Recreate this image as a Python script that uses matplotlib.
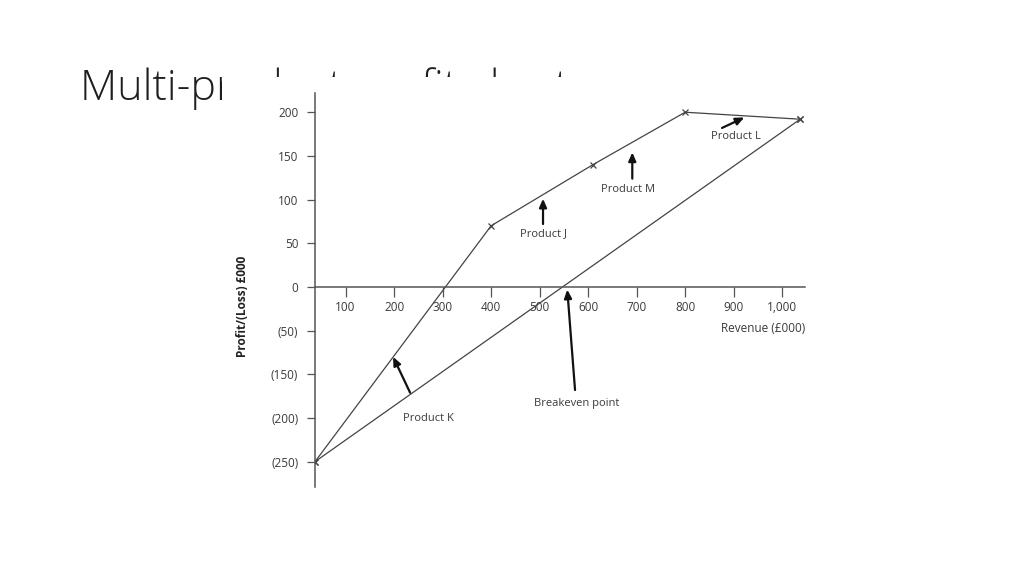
import matplotlib
matplotlib.use("Agg")
import matplotlib.pyplot as plt

# profit path (visual scale of the original drawing)
rev_path = [37, 400, 610, 800, 1037]
profit_path = [-200, 70, 140, 200, 192]
# single-product (average) line
rev_line = [37, 1037]
profit_line = [-200, 192]

xticks = [100, 200, 300, 400, 500, 600, 700, 800, 900, 1000]
xlabels = ["100", "200", "300", "400", "500", "600", "700", "800", "900", "1,000"]
yticks = [-200, -150, -100, -50, 0, 50, 100, 150, 200]
ylabels = ["(250)", "(200)", "(150)", "(50)", "0", "50", "100", "150", "200"]

# annotations: label, text pos, arrow tail, arrow tip
notes = [
    ("Product K", (270, -151), (233, -121), (198, -80)),
    ("Product J", (507, 61), (507, 72), (507, 101)),
    ("Product M", (682, 112), (691, 124), (691, 154)),
    ("Product L", (905, 172), (876, 182), (922, 194)),
    ("Breakeven point", (577, -133), (573, -118), (557, -3)),
]

W, H = 1024, 576
fig = plt.figure(figsize=(W / 100, H / 100), dpi=100)
fig.patch.set_facecolor("white")

# slide title, partly hidden behind the pasted chart
fig.text(80 / W, 1 - 100 / H, "Multi-product profit chart", fontsize=31,
         family="Open Sans", weight="light", color="#1e1e1e", va="baseline", zorder=0)

bg = fig.add_axes([222 / W, 1 - 520 / H, 620 / W, 443 / H], zorder=1)
bg.set_facecolor("white")
bg.set_xticks([])
bg.set_yticks([])
for s in bg.spines.values():
    s.set_visible(False)

ax = fig.add_axes([315 / W, 1 - 487 / H, 490 / W, 394 / H], zorder=2)
ax.patch.set_alpha(0)
ax.set_xlim(37, 1047)
ax.set_ylim(-229, 222)

line_c = "#444444"
ax.plot(rev_path, profit_path, color=line_c, lw=0.9, marker="x", ms=4.5, mew=0.9)
ax.plot(rev_line, profit_line, color=line_c, lw=0.9, marker="x", ms=4.5, mew=0.9)

for sp in ["top", "right"]:
    ax.spines[sp].set_visible(False)
ax.spines["bottom"].set_position(("data", 0))
for sp in ["left", "bottom"]:
    ax.spines[sp].set_color("#555555")
    ax.spines[sp].set_linewidth(1.1)

txt_c = "#3a3a3a"
ax.set_xticks(xticks)
ax.set_xticklabels(xlabels)
ax.set_yticks(yticks)
ax.set_yticklabels(ylabels)
ax.tick_params(axis="x", direction="out", length=7, width=0.9, color="#555555",
               labelsize=8.5, labelcolor=txt_c, pad=3)
ax.tick_params(axis="y", direction="out", length=6, width=0.9, color="#555555",
               labelsize=8.5, labelcolor=txt_c, pad=6)
for lab in ax.get_xticklabels() + ax.get_yticklabels():
    lab.set_family("Open Sans")

ax.text(1047, -47, "Revenue (£000)", ha="right", va="center", fontsize=8.5,
        family="Open Sans", color=txt_c)
fig.text(243 / W, 1 - 306 / H, "Profit/(Loss) £000", rotation=90, ha="center",
         va="center", fontsize=8.5, weight="bold", family="Open Sans", color="#222222",
         zorder=3)

for label, tpos, tail, tip in notes:
    ax.text(tpos[0], tpos[1], label, ha="center", va="center", fontsize=8,
            family="Open Sans", color=txt_c)
    ax.annotate("", xy=tip, xytext=tail,
                arrowprops=dict(arrowstyle="-|>,head_length=0.5,head_width=0.22",
                                color="#111111", lw=1.6, shrinkA=0, shrinkB=0))

fig.savefig("out.png", dpi=100)
